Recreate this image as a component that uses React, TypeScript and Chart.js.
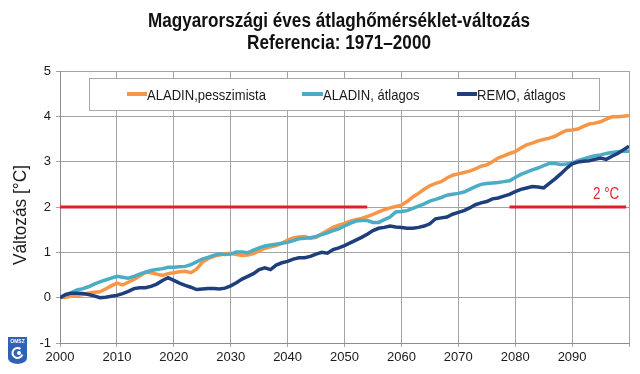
import React, { useEffect, useRef } from "react";
import { Chart, registerables } from "chart.js";

Chart.register(...registerables);

const years: number[] = [];
for (let y = 2000; y <= 2100; y++) years.push(y);

const titleLines = ["Magyarországi éves átlaghőmérséklet-változás", "Referencia: 1971–2000"];
const yAxisTitle = "Változás [°C]";
const seriesNames = ["ALADIN,pesszimista", "ALADIN, átlagos", "REMO, átlagos"];
const seriesColors = ["#F79646", "#4BACC6", "#1F3F7C"];
const thresholdLabel = "2 °C";
const thresholdValue = 2;
const thresholdSeg1 = [2000, 2054];
const thresholdSeg2 = [2079, 2099.5];

const aladinPessz = [
  0.00, 0.01, 0.03, 0.05, 0.07, 0.10, 0.12, 0.13, 0.19, 0.26,
  0.32, 0.28, 0.34, 0.40, 0.48, 0.56, 0.55, 0.52, 0.49, 0.53,
  0.55, 0.57, 0.58, 0.55, 0.63, 0.78, 0.86, 0.91, 0.94, 0.97,
  0.98, 0.95, 0.93, 0.94, 0.97, 1.03, 1.09, 1.12, 1.15, 1.20,
  1.27, 1.32, 1.34, 1.35, 1.31, 1.33, 1.41, 1.48, 1.55, 1.60,
  1.64, 1.69, 1.72, 1.75, 1.79, 1.84, 1.89, 1.94, 1.98, 2.01,
  2.04, 2.12, 2.22, 2.30, 2.39, 2.47, 2.52, 2.56, 2.64, 2.70,
  2.73, 2.76, 2.79, 2.84, 2.90, 2.93, 3.00, 3.08, 3.13, 3.18,
  3.22, 3.30, 3.37, 3.41, 3.46, 3.49, 3.52, 3.56, 3.63, 3.69,
  3.70, 3.72, 3.78, 3.83, 3.85, 3.88, 3.94, 3.99, 3.99, 4.00,
  4.02,
];

const aladinAtl = [
  0.00, 0.06, 0.11, 0.17, 0.20, 0.24, 0.30, 0.35, 0.39, 0.43,
  0.47, 0.45, 0.43, 0.47, 0.52, 0.56, 0.60, 0.62, 0.64, 0.67,
  0.67, 0.68, 0.69, 0.73, 0.79, 0.85, 0.89, 0.93, 0.97, 0.95,
  0.96, 1.01, 1.01, 0.99, 1.05, 1.10, 1.14, 1.16, 1.18, 1.20,
  1.22, 1.26, 1.30, 1.31, 1.32, 1.35, 1.39, 1.43, 1.48, 1.52,
  1.58, 1.64, 1.69, 1.70, 1.70, 1.66, 1.66, 1.72, 1.78, 1.89,
  1.90, 1.92, 1.97, 2.02, 2.07, 2.13, 2.17, 2.21, 2.26, 2.28,
  2.30, 2.33, 2.39, 2.45, 2.50, 2.52, 2.53, 2.54, 2.56, 2.58,
  2.65, 2.72, 2.77, 2.82, 2.86, 2.91, 2.96, 2.96, 2.94, 2.95,
  2.97, 3.02, 3.06, 3.10, 3.13, 3.15, 3.18, 3.20, 3.22, 3.23,
  3.23,
];

const remoAtl = [
  0.00, 0.07, 0.10, 0.10, 0.09, 0.07, 0.04, 0.00, 0.01, 0.03,
  0.05, 0.09, 0.14, 0.20, 0.22, 0.22, 0.25, 0.30, 0.38, 0.44,
  0.38, 0.32, 0.27, 0.23, 0.18, 0.19, 0.20, 0.20, 0.19, 0.21,
  0.26, 0.33, 0.41, 0.47, 0.53, 0.62, 0.66, 0.62, 0.72, 0.77,
  0.80, 0.85, 0.88, 0.88, 0.91, 0.96, 1.00, 0.98, 1.06, 1.10,
  1.15, 1.21, 1.27, 1.33, 1.40, 1.48, 1.53, 1.55, 1.58, 1.56,
  1.55, 1.53, 1.53, 1.55, 1.58, 1.63, 1.74, 1.76, 1.78, 1.84,
  1.88, 1.92, 1.98, 2.05, 2.09, 2.12, 2.18, 2.20, 2.24, 2.28,
  2.34, 2.39, 2.42, 2.45, 2.44, 2.42, 2.52, 2.62, 2.73, 2.85,
  2.95, 2.99, 3.01, 3.02, 3.05, 3.08, 3.05, 3.12, 3.18, 3.26,
  3.34,
];

const FONT = "'Liberation Sans', Arial, sans-serif";

function toXY(vals: number[]) {
  return years.map((yr, i) => ({ x: yr, y: vals[i] }));
}

const decorPlugin = {
  id: "decor",
  afterDatasetsDraw(chart: any) {
    const ctx = chart.ctx as CanvasRenderingContext2D;
    const xs = chart.scales.x;
    const ys = chart.scales.y;
    ctx.save();

    // Legend box
    const lx0 = 89, ly0 = 78, lx1 = 599, ly1 = 110;
    ctx.fillStyle = "#ffffff";
    ctx.fillRect(lx0, ly0, lx1 - lx0, ly1 - ly0);
    ctx.strokeStyle = "#a8a8a8";
    ctx.lineWidth = 1;
    ctx.strokeRect(lx0 + 0.5, ly0 + 0.5, lx1 - lx0, ly1 - ly0);
    const items = [
      { sx: 127, tx: 147 },
      { sx: 302, tx: 323 },
      { sx: 457, tx: 477 },
    ];
    const midY = 94;
    items.forEach((it, i) => {
      ctx.strokeStyle = seriesColors[i];
      ctx.lineWidth = 4;
      ctx.beginPath();
      ctx.moveTo(it.sx, midY);
      ctx.lineTo(it.tx, midY);
      ctx.stroke();
      ctx.save();
      ctx.translate(it.tx, 99.5);
      ctx.scale(0.87, 1);
      ctx.fillStyle = "#1a1a1a";
      ctx.font = `15px ${FONT}`;
      ctx.textAlign = "left";
      ctx.textBaseline = "alphabetic";
      ctx.fillText(seriesNames[i], 0, 0);
      ctx.restore();
    });

    // threshold label
    ctx.save();
    ctx.translate(593, 199);
    ctx.scale(0.84, 1);
    ctx.fillStyle = "#e3262b";
    ctx.font = `16px ${FONT}`;
    ctx.textAlign = "left";
    ctx.textBaseline = "alphabetic";
    ctx.fillText(thresholdLabel, 0, 0);
    ctx.restore();
    ctx.restore();
  },
  afterDraw(chart: any) {
    const ctx = chart.ctx as CanvasRenderingContext2D;
    ctx.save();
    // Title
    ctx.fillStyle = "#111111";
    ctx.font = `bold 19.5px ${FONT}`;
    const w1 = ctx.measureText(titleLines[0]).width;
    const sx = 382 / w1;
    const baselines = [26.5, 48.5];
    titleLines.forEach((t, i) => {
      ctx.save();
      ctx.translate(339, baselines[i]);
      ctx.scale(sx, 1);
      ctx.textAlign = "center";
      ctx.textBaseline = "alphabetic";
      ctx.fillText(t, 0, 0);
      ctx.restore();
    });

    // y axis title
    ctx.save();
    ctx.translate(26, 215);
    ctx.rotate(-Math.PI / 2);
    ctx.font = `18px ${FONT}`;
    ctx.fillStyle = "#1a1a1a";
    ctx.textAlign = "center";
    ctx.textBaseline = "alphabetic";
    const wt = ctx.measureText(yAxisTitle).width;
    ctx.scale(100 / wt, 1);
    ctx.fillText(yAxisTitle, 0, 0);
    ctx.restore();

    // logo
    ctx.fillStyle = "#2f62b4";
    ctx.beginPath();
    ctx.moveTo(8, 337);
    ctx.lineTo(27, 337);
    ctx.lineTo(27, 358);
    ctx.quadraticCurveTo(27, 363, 17.5, 364);
    ctx.quadraticCurveTo(8, 363, 8, 358);
    ctx.closePath();
    ctx.fill();
    ctx.fillStyle = "#ffffff";
    ctx.font = `bold 5px ${FONT}`;
    ctx.textAlign = "center";
    ctx.fillText("OMSZ", 17.5, 343);
    ctx.strokeStyle = "#ffffff";
    ctx.lineWidth = 2;
    ctx.beginPath();
    ctx.arc(17.5, 353, 5, 0.3, Math.PI * 1.7);
    ctx.stroke();
    ctx.beginPath();
    ctx.arc(19, 353, 2, 0, Math.PI * 2);
    ctx.fill();
    ctx.restore();
  },
};

export default function App() {
  const ref = useRef<HTMLCanvasElement>(null);
  useEffect(() => {
    if (!ref.current) return;
    const chart = new Chart(ref.current, {
      type: "line",
      data: {
        datasets: [
          {
            label: seriesNames[2],
            data: toXY(remoAtl),
            borderColor: seriesColors[2],
            borderWidth: 3.5,
            pointRadius: 0,
            order: 0,
          },
          {
            label: seriesNames[1],
            data: toXY(aladinAtl),
            borderColor: seriesColors[1],
            borderWidth: 3.5,
            pointRadius: 0,
            order: 1,
          },
          {
            label: seriesNames[0],
            data: toXY(aladinPessz),
            borderColor: seriesColors[0],
            borderWidth: 3.5,
            pointRadius: 0,
            order: 2,
          },
          {
            label: "2C-a",
            data: thresholdSeg1.map((x) => ({ x, y: thresholdValue })),
            borderColor: "#e31e24",
            borderWidth: 3,
            pointRadius: 0,
            order: 3,
          },
          {
            label: "2C-b",
            data: thresholdSeg2.map((x) => ({ x, y: thresholdValue })),
            borderColor: "#e31e24",
            borderWidth: 3,
            pointRadius: 0,
            order: 3,
          },
        ] as any,
      },
      options: {
        responsive: false,
        animation: false,
        layout: { padding: { top: 71, right: 11, left: 0, bottom: 0 } },
        plugins: {
          legend: { display: false },
          title: { display: false },
          tooltip: { enabled: false },
        },
        scales: {
          x: {
            type: "linear",
            min: 2000,
            max: 2100,
            afterFit: (s: any) => {
              s.height = 31;
            },
            ticks: {
              stepSize: 10,
              autoSkip: false,
              maxRotation: 0,
              padding: 3,
              color: "#1a1a1a",
              font: { family: FONT, size: 13 },
              callback: (v: any) => (Number(v) === 2100 ? "" : String(v)),
            },
            grid: { color: "#a4a4a4", lineWidth: 1, tickLength: 4 },
            border: { color: "#8c8c8c" },
          },
          y: {
            min: -1,
            max: 5,
            afterFit: (s: any) => {
              s.width = 60;
            },
            ticks: {
              stepSize: 1,
              padding: 5,
              color: "#1a1a1a",
              font: { family: FONT, size: 13 },
            },
            grid: { color: "#a4a4a4", lineWidth: 1, tickLength: 4 },
            border: { color: "#8c8c8c" },
          },
        },
      },
      plugins: [decorPlugin],
    });
    return () => chart.destroy();
  }, []);
  return (
    <canvas
      ref={ref}
      width={640}
      height={374}
      style={{ position: "fixed", left: 0, top: 0, width: 640, height: 374, background: "#fff" }}
    />
  );
}
